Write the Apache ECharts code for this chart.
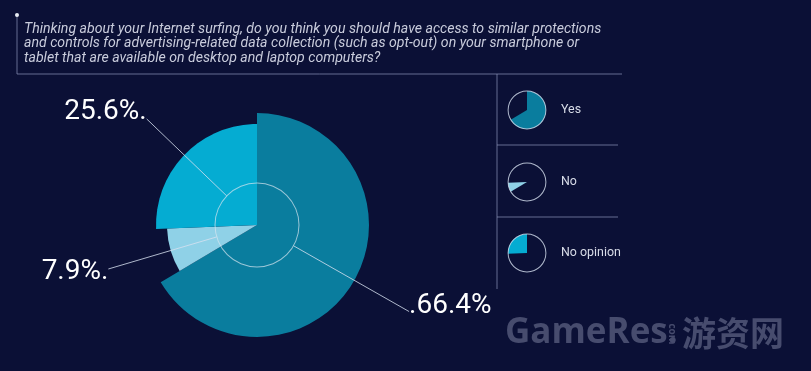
<!DOCTYPE html>
<html>
<head>
<meta charset="utf-8">
<script src="https://cdn.jsdelivr.net/npm/echarts@6/dist/echarts.min.js"></script>
<style>
html,body{margin:0;padding:0;background:#0b1036;}
#chart{width:811px;height:371px;}
</style>
</head>
<body>
<div id="chart"></div>
<script>
// ---- data ----
var titleLines = [
  'Thinking about your Internet surfing, do you think you should have access to similar protections',
  'and controls for advertising-related data collection (such as opt-out) on your smartphone or',
  'tablet that are available on desktop and laptop computers?'
];
var categories = ['Yes', 'No', 'No opinion'];
var values = [66.4, 7.9, 25.6];

// ---- styles ----
var colors = ['#0a7d9e', '#8fd1e7', '#05acd2'];
var outerRadius = [112, 90, 101];
var labelLineLen = [133, 113, 111];
// vertical nudge of each percentage label (negative = up), via spacer line height
var labelNudge = [-6, 3, -7];
var center = [257, 225];
var innerR = 42;
var legendCenters = [[527, 110], [527, 182], [527, 253]];

var chart = echarts.init(document.getElementById('chart'), null, {renderer: 'canvas'});

function itemsFor(highlight) {
  return categories.map(function (c, j) {
    return {
      name: c,
      value: values[j],
      itemStyle: {color: j === highlight ? colors[j] : 'rgba(0,0,0,0)', borderWidth: 0}
    };
  });
}

var series = [];
// main sectors, each with its own radius
categories.forEach(function (c, i) {
  series.push({
    type: 'pie', center: center, radius: [0, outerRadius[i]], z: 2,
    startAngle: 90, clockwise: true, silent: true, animation: false,
    label: {show: false}, labelLine: {show: false},
    data: itemsFor(i)
  });
});
// inner circle outline
series.push({
  type: 'pie', center: center, radius: [innerR - 0.5, innerR + 0.5], z: 4,
  silent: true, animation: false, label: {show: false}, labelLine: {show: false},
  data: [{value: values.reduce(function (a, b) { return a + b; }, 0),
          itemStyle: {color: 'rgba(215,230,240,0.7)', borderWidth: 0}}]
});
// label series (leader lines start on the inner circle)
series.push({
  type: 'pie', center: center, radius: [0, innerR], z: 5,
  startAngle: 90, clockwise: true, silent: true, animation: false,
  avoidLabelOverlap: false,
  label: {
    show: true, position: 'outside', alignTo: 'none', distanceToLabelLine: 0,
    color: '#ffffff', fontFamily: 'Roboto', fontSize: 28,
    formatter: function (p) {
      var txt = p.dataIndex === 0 ? '.' + p.value + '%' : p.value + '%.';
      var n = labelNudge[p.dataIndex];
      var h = Math.abs(n) * 2;
      if (n < 0) return '{t|' + txt + '}\n{s' + h + '| }';
      if (n > 0) return '{s' + h + '| }\n{t|' + txt + '}';
      return '{t|' + txt + '}';
    },
    rich: (function () {
      var r = {t: {fontSize: 28, lineHeight: 28, fontFamily: 'Roboto', color: '#ffffff'}};
      labelNudge.forEach(function (n) {
        var h = Math.abs(n) * 2;
        r['s' + h] = {fontSize: 1, lineHeight: h};
      });
      return r;
    })()
  },
  labelLine: {show: true, length2: 0, smooth: false,
              lineStyle: {color: 'rgba(215,225,240,0.8)', width: 1}},
  data: categories.map(function (c, j) {
    return {name: c, value: values[j],
            itemStyle: {color: 'rgba(0,0,0,0)', borderWidth: 0},
            labelLine: {length: labelLineLen[j]}};
  })
});
// legend mini pies
categories.forEach(function (c, i) {
  series.push({
    type: 'pie', center: legendCenters[i], radius: [0, 19],
    startAngle: 90, clockwise: true, silent: true, animation: false,
    label: {show: false}, labelLine: {show: false},
    data: itemsFor(i)
  });
  series.push({
    type: 'pie', center: legendCenters[i], radius: [18.4, 19.4],
    silent: true, animation: false, label: {show: false}, labelLine: {show: false},
    data: [{value: 1, itemStyle: {color: 'rgba(215,225,240,0.8)', borderWidth: 0}}]
  });
});

var lineColor = 'rgba(140,150,185,0.7)';
var graphics = [
  {type: 'line', shape: {x1: 17, y1: 15, x2: 17, y2: 74}, style: {stroke: lineColor, lineWidth: 1}, silent: true},
  {type: 'circle', shape: {cx: 17, cy: 15, r: 2}, style: {fill: '#e8ecf4'}, silent: true},
  {type: 'line', shape: {x1: 17, y1: 74, x2: 622, y2: 74}, style: {stroke: lineColor, lineWidth: 1}, silent: true},
  {type: 'line', shape: {x1: 497, y1: 74, x2: 497, y2: 289}, style: {stroke: lineColor, lineWidth: 1}, silent: true},
  {type: 'line', shape: {x1: 497, y1: 145, x2: 618, y2: 145}, style: {stroke: lineColor, lineWidth: 1}, silent: true},
  {type: 'line', shape: {x1: 497, y1: 217, x2: 618, y2: 217}, style: {stroke: lineColor, lineWidth: 1}, silent: true}
];
titleLines.forEach(function (t, i) {
  graphics.push({
    type: 'text', x: 24, y: 29 + i * 14.5, scaleX: 0.94, silent: true,
    style: {text: t, fill: '#c9ccdc', font: 'italic 15px Roboto', textVerticalAlign: 'middle'}
  });
});
categories.forEach(function (c, i) {
  graphics.push({
    type: 'text', x: 561, y: legendCenters[i][1], scaleX: 0.92, silent: true,
    style: {text: c, fill: '#d8dce8', font: '13.5px Roboto', textVerticalAlign: 'middle'}
  });
});
// watermark
var wm = '#474c6e';
graphics.push({type: 'text', x: 505, y: 333, silent: true,
  style: {text: 'GameRes.', fill: wm, font: 'bold 35px "Open Sans"', textVerticalAlign: 'middle'}});
graphics.push({type: 'text', x: 672, y: 334, rotation: -Math.PI / 2, silent: true,
  style: {text: 'com', fill: wm, font: 'bold 10px "Open Sans"', textAlign: 'center', textVerticalAlign: 'middle'}});
graphics.push({type: 'text', x: 682, y: 333, silent: true,
  style: {text: '游资网', fill: wm, font: 'bold 34px "Noto Sans CJK SC"', textVerticalAlign: 'middle'}});

chart.setOption({
  backgroundColor: '#0b1036',
  animation: false,
  series: series,
  graphic: graphics
});
</script>
</body>
</html>
